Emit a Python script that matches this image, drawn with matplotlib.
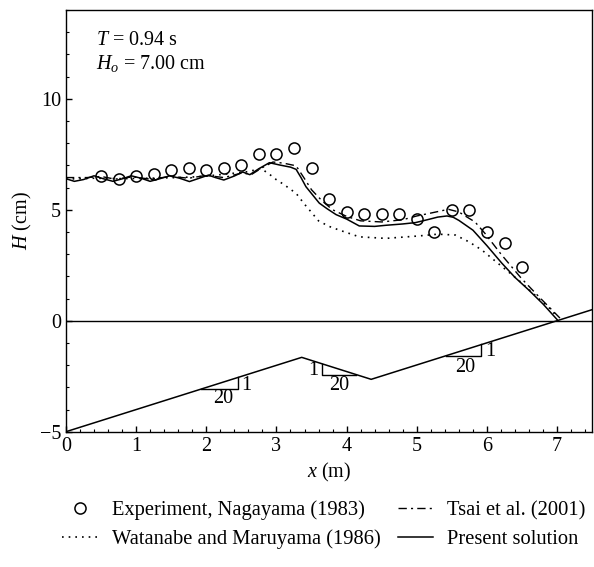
import matplotlib
matplotlib.use("Agg")
import matplotlib.pyplot as plt
from matplotlib.ticker import MultipleLocator

plt.rcParams['font.family'] = ['Liberation Serif', 'DejaVu Serif']
plt.rcParams['mathtext.fontset'] = 'custom'
plt.rcParams['mathtext.rm'] = 'Liberation Serif'
plt.rcParams['mathtext.it'] = 'Liberation Serif:italic'
plt.rcParams['font.size'] = 14.5

# experiment, Nagayama (1983)
exp_x = [0.5, 0.75, 1.0, 1.25, 1.5, 1.75, 2.0, 2.25, 2.5, 2.75, 3.0, 3.25, 3.5,
         3.75, 4.0, 4.25, 4.5, 4.75, 5.0, 5.25, 5.5, 5.75, 6.0, 6.25, 6.5]
exp_H = [6.5, 6.4, 6.5, 6.6, 6.8, 6.9, 6.8, 6.9, 7.0, 7.5, 7.5, 7.8, 6.9,
         5.5, 4.9, 4.8, 4.8, 4.8, 4.6, 4.0, 5.0, 5.0, 4.0, 3.5, 2.4]

# Watanabe and Maruyama (1986)
wat_x = [0.0, 0.4, 0.8, 1.2, 1.6, 1.9, 2.1, 2.38, 2.6, 2.78, 2.9, 3.0, 3.1, 3.28,
         3.4, 3.47, 3.6, 3.75, 3.89, 4.18, 4.56, 5.03, 5.3, 5.55, 5.74, 5.93,
         6.04, 6.45, 6.92, 7.0]
wat_H = [6.38, 6.42, 6.40, 6.42, 6.45, 6.49, 6.55, 6.64, 6.72, 6.86, 6.6, 6.35,
         6.15, 5.74, 5.25, 4.99, 4.5, 4.25, 4.09, 3.78, 3.71, 3.82, 3.90, 3.86,
         3.56, 3.18, 2.89, 1.83, 0.48, 0.15]

# Tsai et al. (2001)
tsai_x = [0.0, 0.3, 0.5, 0.7, 0.95, 1.2, 1.5, 1.75, 2.0, 2.25, 2.5, 2.65, 2.8,
          2.95, 3.1, 3.28, 3.4, 3.5, 3.65, 3.8, 4.0, 4.2, 4.5, 4.8, 5.0, 5.2,
          5.45, 5.6, 5.7, 5.83, 5.97, 6.2, 6.49, 6.75, 7.04]
tsai_H = [6.45, 6.45, 6.5, 6.38, 6.48, 6.38, 6.5, 6.42, 6.55, 6.45, 6.65, 6.6,
          6.9, 7.15, 7.1, 6.98, 6.4, 5.9, 5.4, 5.0, 4.7, 4.5, 4.45, 4.55, 4.72,
          4.85, 5.02, 4.9, 4.7, 4.45, 3.94, 3.0, 1.91, 1.05, 0.12]

# present solution
sol_x = [0.0, 0.12, 0.25, 0.4, 0.53, 0.67, 0.81, 0.93, 1.07, 1.2, 1.34, 1.48,
         1.62, 1.76, 1.9, 2.03, 2.13, 2.25, 2.4, 2.52, 2.62, 2.75, 2.9, 3.04,
         3.2, 3.28, 3.35, 3.42, 3.52, 3.61, 3.72, 3.85, 4.0, 4.18, 4.4, 4.56,
         4.8, 4.98, 5.15, 5.3, 5.43, 5.52, 5.6, 5.7, 5.8, 6.0, 6.21, 6.4, 6.59,
         6.8, 7.0]
sol_H = [6.40, 6.28, 6.36, 6.53, 6.40, 6.28, 6.40, 6.53, 6.42, 6.28, 6.40, 6.53,
         6.42, 6.27, 6.42, 6.56, 6.45, 6.34, 6.52, 6.70, 6.58, 6.85, 7.12, 7.02,
         6.92, 6.82, 6.45, 6.04, 5.65, 5.30, 5.05, 4.78, 4.58, 4.27, 4.25, 4.30,
         4.36, 4.42, 4.55, 4.67, 4.72, 4.66, 4.52, 4.30, 4.08, 3.38, 2.60, 1.95,
         1.40, 0.75, 0.05]

# bottom profile (schematic)
bed_x = [0.0, 3.36, 4.35, 7.5]
bed_H = [-5.0, -1.65, -2.64, 0.5]

fig = plt.figure(figsize=(5.94, 5.67), dpi=100)
ax = fig.add_axes([0.111, 0.2386, 0.886, 0.7438])

ax.plot(exp_x, exp_H, 'o', mfc='none', mec='black', ms=8, mew=1.1,
        label='Experiment, Nagayama (1983)')
ax.plot(wat_x, wat_H, color='black', lw=1.2, linestyle=(0, (1, 3)),
        label='Watanabe and Maruyama (1986)')
ax.plot(tsai_x, tsai_H, color='black', lw=1.0, linestyle=(0, (6, 3, 1.5, 3)),
        label='Tsai et al. (2001)')
ax.plot(sol_x, sol_H, color='black', lw=1.1, label='Present solution')

ax.axhline(0, color='black', lw=1.0)
ax.plot(bed_x, bed_H, color='black', lw=1.1)

# slope triangles
ax.plot([1.93, 2.45, 2.45], [-3.07, -3.07, -2.55], color='black', lw=1.0)
ax.text(2.5, -2.9, '1', ha='left', va='center')
ax.text(2.24, -3.5, '20', ha='center', va='center')
ax.plot([3.65, 3.65, 4.13], [-1.94, -2.44, -2.44], color='black', lw=1.0)
ax.text(3.59, -2.25, '1', ha='right', va='center')
ax.text(3.9, -2.94, '20', ha='center', va='center')
ax.plot([5.41, 5.92, 5.92], [-1.58, -1.58, -1.07], color='black', lw=1.0)
ax.text(5.97, -1.4, '1', ha='left', va='center')
ax.text(5.69, -2.1, '20', ha='center', va='center')

ax.text(0.43, 12.4, r'$T$ = 0.94 s', ha='left', va='baseline')
ax.text(0.43, 11.35, r'$H_o$ = 7.00 cm', ha='left', va='baseline')

ax.set_xlim(0, 7.5)
ax.set_ylim(-5, 14)
ax.xaxis.set_major_locator(MultipleLocator(1))
ax.xaxis.set_minor_locator(MultipleLocator(0.2))
ax.set_yticks([-5, 0, 5, 10])
ax.yaxis.set_minor_locator(MultipleLocator(1))
ax.tick_params(which='both', direction='in', top=False, right=False)
ax.tick_params(which='major', length=4, width=1)
ax.tick_params(which='minor', length=2.5, width=0.8)
for s in ax.spines.values():
    s.set_linewidth(1.0)

ax.set_xlabel(r'$x$ (m)')
ax.set_ylabel(r'$H$ (cm)')

fig.legend(loc='upper left', bbox_to_anchor=(0.105, 0.117), ncol=2,
           frameon=False, handlelength=1.7, columnspacing=0.85,
           handletextpad=0.7, labelspacing=0.45, borderpad=0, borderaxespad=0,
           fontsize=14.8)

fig.savefig('out.png', dpi=100)
